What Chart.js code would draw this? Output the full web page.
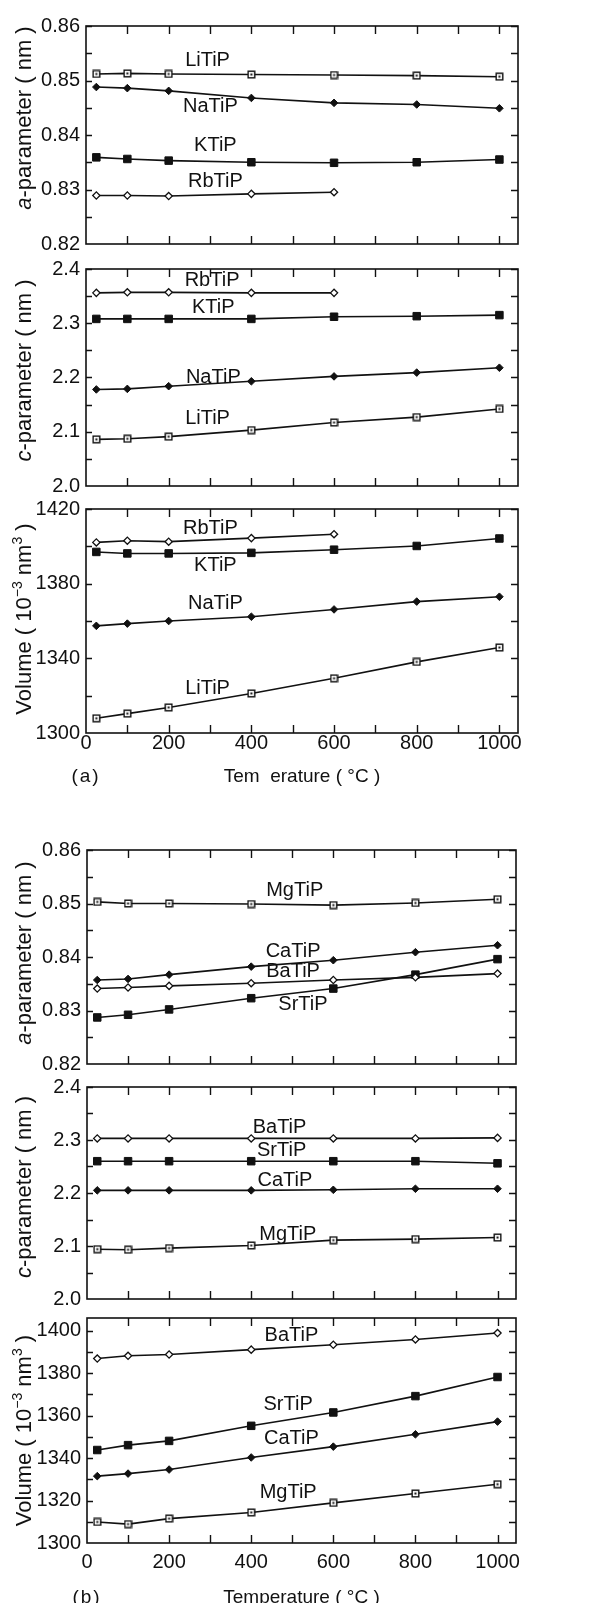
<!DOCTYPE html>
<html><head><meta charset="utf-8">
<script src="https://cdn.jsdelivr.net/npm/chart.js@4/dist/chart.umd.min.js"></script>
<style>
html,body{margin:0;padding:0;background:#fff;width:607px;height:1603px;overflow:hidden;position:relative}
canvas{position:absolute;left:0}
</style></head><body>
<canvas id="a1"></canvas><canvas id="a2"></canvas><canvas id="a3"></canvas>
<canvas id="b1"></canvas><canvas id="b2"></canvas><canvas id="b3"></canvas>
<script>
// ---------- DATA ----------
const temps = [25, 100, 200, 400, 600, 800, 1000];
const tempsRb = [25, 100, 200, 400, 600];

// (a) alkali titanium phosphates
const aLiTiP = [0.8512, 0.8513, 0.8512, 0.8511, 0.8510, 0.8509, 0.8507];
const aNaTiP = [0.8488, 0.8486, 0.8481, 0.8468, 0.8459, 0.8456, 0.8449];
const aKTiP  = [0.8359, 0.8356, 0.8353, 0.8350, 0.8349, 0.8350, 0.8355];
const aRbTiP = [0.8289, 0.8289, 0.8288, 0.8292, 0.8295];

const cRbTiP = [2.356, 2.357, 2.357, 2.356, 2.356];
const cKTiP  = [2.308, 2.308, 2.308, 2.308, 2.312, 2.313, 2.315];
const cNaTiP = [2.178, 2.179, 2.184, 2.193, 2.202, 2.209, 2.218];
const cLiTiP = [2.086, 2.087, 2.091, 2.103, 2.117, 2.127, 2.142];

const vRbTiP = [1402.1, 1403.0, 1402.5, 1404.4, 1406.5];
const vKTiP  = [1397.0, 1396.2, 1396.2, 1396.5, 1398.2, 1400.2, 1404.2];
const vNaTiP = [1357.4, 1358.6, 1360.0, 1362.3, 1366.2, 1370.4, 1373.0];
const vLiTiP = [1307.9, 1310.4, 1313.7, 1321.2, 1329.3, 1338.1, 1345.8];

// (b) alkaline-earth titanium phosphates
const aMgTiP = [0.8503, 0.8500, 0.8500, 0.8499, 0.8497, 0.8501, 0.8508];
const aCaTiP = [0.8357, 0.8359, 0.8367, 0.8382, 0.8394, 0.8409, 0.8422];
const aBaTiP = [0.8341, 0.8343, 0.8346, 0.8351, 0.8357, 0.8362, 0.8369];
const aSrTiP = [0.8287, 0.8292, 0.8302, 0.8323, 0.8341, 0.8367, 0.8396];

const cBaTiP = [2.303, 2.303, 2.303, 2.303, 2.303, 2.303, 2.304];
const cSrTiP = [2.260, 2.260, 2.260, 2.260, 2.260, 2.260, 2.256];
const cCaTiP = [2.205, 2.205, 2.205, 2.205, 2.206, 2.208, 2.208];
const cMgTiP = [2.094, 2.093, 2.096, 2.101, 2.111, 2.113, 2.116];

const vBaTiP = [1386.9, 1388.2, 1388.8, 1391.1, 1393.4, 1395.9, 1398.9];
const vSrTiP = [1343.8, 1346.1, 1348.1, 1355.2, 1361.5, 1369.2, 1378.2];
const vCaTiP = [1331.5, 1332.7, 1334.6, 1340.3, 1345.4, 1351.2, 1357.2];
const vMgTiP = [1309.9, 1308.9, 1311.5, 1314.4, 1318.9, 1323.3, 1327.7];

const xTickLabels = [0, 200, 400, 600, 800, 1000];

// ---------- STYLE ----------
const INK = '#111';
const FONT = 'Arial, "Liberation Sans", Helvetica, sans-serif';

function openSquareImg() {
  const c = document.createElement('canvas'); c.width = 9; c.height = 9;
  const g = c.getContext('2d');
  g.fillStyle = '#fff'; g.fillRect(1, 1, 7, 7);
  g.strokeStyle = INK; g.lineWidth = 1.4; g.strokeRect(1.2, 1.2, 6.6, 6.6);
  g.fillStyle = INK; g.fillRect(3.5, 3.5, 2, 2);
  return c;
}
const OPEN_SQ = openSquareImg();
const markers = {
  openSquare:  {pointStyle: OPEN_SQ, pointRadius: 4.5, pointBackgroundColor: '#fff', pointBorderColor: INK, pointBorderWidth: 1},
  diamond:     {pointStyle: 'rectRot', pointRadius: 3.8, pointBackgroundColor: INK, pointBorderColor: INK, pointBorderWidth: 1},
  square:      {pointStyle: 'rect', pointRadius: 5.3, pointBackgroundColor: INK, pointBorderColor: INK, pointBorderWidth: 1},
  openDiamond: {pointStyle: 'rectRot', pointRadius: 3.6, pointBackgroundColor: '#fff', pointBorderColor: INK, pointBorderWidth: 1.3}
};

// ---------- PLUGINS ----------
const framePlugin = {
  id: 'frame',
  afterDraw(chart, args, o) {
    const {ctx, chartArea: a, scales: {x, y}} = chart;
    ctx.save();
    ctx.strokeStyle = INK; ctx.lineWidth = 1.6;
    ctx.strokeRect(a.left, a.top, a.right - a.left, a.bottom - a.top);
    ctx.lineWidth = 1.4;
    ctx.beginPath();
    for (let v = 100; v <= 1000; v += 100) {
      const px = Math.round(x.getPixelForValue(v)) + 0.5;
      ctx.moveTo(px, a.bottom); ctx.lineTo(px, a.bottom - 8);
      ctx.moveTo(px, a.top); ctx.lineTo(px, a.top + 8);
    }
    const n = Math.round((y.max - y.min) / o.yMinor);
    for (let i = 1; i < n + 1; i++) {
      const v = y.min + i * o.yMinor;
      if (v > y.max + 1e-9) break;
      const py = Math.round(y.getPixelForValue(v)) + 0.5;
      ctx.moveTo(a.left, py); ctx.lineTo(a.left + 6, py);
      ctx.moveTo(a.right, py); ctx.lineTo(a.right - 7, py);
    }
    ctx.stroke();
    // series labels
    ctx.fillStyle = INK;
    ctx.font = '20px ' + FONT;
    ctx.textAlign = 'center'; ctx.textBaseline = 'middle';
    (o.labels || []).forEach(l => {
      ctx.fillText(l.text, x.getPixelForValue(l.x), y.getPixelForValue(l.y));
    });
    // panel tag
    if (o.tag) {
      ctx.font = '19px ' + FONT;
      ctx.letterSpacing = '2px';
      ctx.fillText(o.tag, x.getPixelForValue(0), a.bottom + o.tagDy);
      ctx.letterSpacing = '0px';
    }
    // y title with mixed styles
    const parts = o.yTitle;
    const base = 22, sup = 14;
    const fontOf = p => (p.italic ? 'italic ' : '') + (p.sup ? sup : base) + 'px ' + FONT;
    let total = 0;
    parts.forEach(p => { ctx.font = fontOf(p); total += ctx.measureText(p.t).width; });
    ctx.translate(o.yTitleX, (a.top + a.bottom) / 2 + o.yTitleDy);
    ctx.rotate(-Math.PI / 2);
    ctx.textAlign = 'left'; ctx.textBaseline = 'alphabetic';
    let cx = -total / 2;
    parts.forEach(p => {
      ctx.font = fontOf(p);
      ctx.fillText(p.t, cx, p.sup ? -9 : 0);
      cx += ctx.measureText(p.t).width;
    });
    ctx.restore();
  }
};

// ---------- PANELS ----------
function series(name, xs, ys, marker) {
  return {
    label: name,
    data: xs.map((t, i) => ({x: t, y: ys[i]})),
    borderColor: INK, borderWidth: 1.6, tension: 0, fill: false,
    ...markers[marker]
  };
}

function makePanel(id, p) {
  const el = document.getElementById(id);
  el.width = 607; el.height = p.canvasH;
  el.style.width = '607px'; el.style.height = p.canvasH + 'px';
  el.style.top = p.canvasTop + 'px';
  new Chart(el, {
    type: 'line',
    data: {datasets: p.datasets},
    options: {
      responsive: false, animation: false, devicePixelRatio: 1,
      layout: {padding: {left: 0, right: p.padRight, top: 12, bottom: 0}},
      plugins: {
        legend: {display: false}, tooltip: {enabled: false},
        frame: {yMinor: p.yMinor, labels: p.labels, yTitle: p.yTitle, yTitleX: 31, yTitleDy: p.yTitleDy, tag: p.tag, tagDy: p.tagDy}
      },
      scales: {
        x: {
          type: 'linear', min: 0, max: 1045,
          afterFit: s => { s.height = p.xAxisH; },
          grid: {display: false, drawTicks: false}, border: {display: false},
          afterBuildTicks: s => { s.ticks = xTickLabels.map(v => ({value: v})); },
          ticks: {display: !!p.xTitle, padding: p.xTickPad, color: INK, maxRotation: 0, autoSkip: false,
                  font: {family: FONT, size: 20, lineHeight: 1}, callback: v => String(v)},
          title: {display: !!p.xTitle, text: p.xTitle || '', color: INK,
                  font: {family: FONT, size: 19, lineHeight: 1.2}, padding: {top: 0, bottom: p.xTitlePad}}
        },
        y: {
          type: 'linear', min: p.yMin, max: p.yMax,
          afterFit: s => { s.width = p.axisW; },
          grid: {display: false, drawTicks: false}, border: {display: false},
          afterBuildTicks: s => { s.ticks = p.yTicks.map(v => ({value: v})); },
          ticks: {padding: 6, color: INK, font: {family: FONT, size: 20, lineHeight: 1},
                  callback: v => v.toFixed(p.yDec)}
        }
      }
    },
    plugins: [framePlugin]
  });
}

const titleA = [{t: 'a', italic: true}, {t: '-parameter ( nm )'}];
const titleC = [{t: 'c', italic: true}, {t: '-parameter ( nm )'}];
const titleV = [{t: 'Volume ( 10'}, {t: '\u22123', sup: true}, {t: ' nm'}, {t: '3', sup: true}, {t: ' )'}];

// (a)
makePanel('a1', {
  canvasTop: 10, canvasH: 250, padRight: 89, axisW: 86, xAxisH: 10,
  yMin: 0.82, yMax: 0.86, yTicks: [0.82, 0.83, 0.84, 0.85, 0.86], yDec: 2, yMinor: 0.005,
  yTitle: titleA, yTitleDy: -17,
  datasets: [
    series('LiTiP', temps, aLiTiP, 'openSquare'),
    series('NaTiP', temps, aNaTiP, 'diamond'),
    series('KTiP', temps, aKTiP, 'square'),
    series('RbTiP', tempsRb, aRbTiP, 'openDiamond')
  ],
  labels: [
    {text: 'LiTiP', x: 294, y: 0.8537}, {text: 'NaTiP', x: 301, y: 0.8453},
    {text: 'KTiP', x: 313, y: 0.8381}, {text: 'RbTiP', x: 313, y: 0.8314}
  ]
});
makePanel('a2', {
  canvasTop: 253, canvasH: 249, padRight: 89, axisW: 86, xAxisH: 10,
  yMin: 2.0, yMax: 2.4, yTicks: [2.0, 2.1, 2.2, 2.3, 2.4], yDec: 1, yMinor: 0.05,
  yTitle: titleC, yTitleDy: -7,
  datasets: [
    series('RbTiP', tempsRb, cRbTiP, 'openDiamond'),
    series('KTiP', temps, cKTiP, 'square'),
    series('NaTiP', temps, cNaTiP, 'diamond'),
    series('LiTiP', temps, cLiTiP, 'openSquare')
  ],
  labels: [
    {text: 'RbTiP', x: 305, y: 2.379}, {text: 'KTiP', x: 308, y: 2.329},
    {text: 'NaTiP', x: 308, y: 2.200}, {text: 'LiTiP', x: 294, y: 2.124}
  ]
});
makePanel('a3', {
  canvasTop: 493, canvasH: 302, padRight: 89, axisW: 86, xAxisH: 62,
  yMin: 1300, yMax: 1420, yTicks: [1300, 1340, 1380, 1420], yDec: 0, yMinor: 20,
  yTitle: titleV, yTitleDy: -2,
  xTitle: 'Tem  erature ( \u00B0C )', xTickPad: 0, xTitlePad: 7, tag: '(a)', tagDy: 44,
  datasets: [
    series('RbTiP', tempsRb, vRbTiP, 'openDiamond'),
    series('KTiP', temps, vKTiP, 'square'),
    series('NaTiP', temps, vNaTiP, 'diamond'),
    series('LiTiP', temps, vLiTiP, 'openSquare')
  ],
  labels: [
    {text: 'RbTiP', x: 301, y: 1409.5}, {text: 'KTiP', x: 313, y: 1389.8},
    {text: 'NaTiP', x: 313, y: 1369.6}, {text: 'LiTiP', x: 294, y: 1324}
  ]
});

// (b)
makePanel('b1', {
  canvasTop: 834, canvasH: 246, padRight: 91, axisW: 87, xAxisH: 10,
  yMin: 0.82, yMax: 0.86, yTicks: [0.82, 0.83, 0.84, 0.85, 0.86], yDec: 2, yMinor: 0.005,
  yTitle: titleA, yTitleDy: -4,
  datasets: [
    series('MgTiP', temps, aMgTiP, 'openSquare'),
    series('CaTiP', temps, aCaTiP, 'diamond'),
    series('BaTiP', temps, aBaTiP, 'openDiamond'),
    series('SrTiP', temps, aSrTiP, 'square')
  ],
  labels: [
    {text: 'MgTiP', x: 506, y: 0.8525}, {text: 'CaTiP', x: 502, y: 0.8410},
    {text: 'BaTiP', x: 502, y: 0.8373}, {text: 'SrTiP', x: 526, y: 0.8311}
  ]
});
makePanel('b2', {
  canvasTop: 1071, canvasH: 244, padRight: 91, axisW: 87, xAxisH: 10,
  yMin: 2.0, yMax: 2.4, yTicks: [2.0, 2.1, 2.2, 2.3, 2.4], yDec: 1, yMinor: 0.05,
  yTitle: titleC, yTitleDy: -6,
  datasets: [
    series('BaTiP', temps, cBaTiP, 'openDiamond'),
    series('SrTiP', temps, cSrTiP, 'square'),
    series('CaTiP', temps, cCaTiP, 'diamond'),
    series('MgTiP', temps, cMgTiP, 'openSquare')
  ],
  labels: [
    {text: 'BaTiP', x: 469, y: 2.324}, {text: 'SrTiP', x: 474, y: 2.280},
    {text: 'CaTiP', x: 482, y: 2.224}, {text: 'MgTiP', x: 489, y: 2.121}
  ]
});
makePanel('b3', {
  canvasTop: 1302, canvasH: 311, padRight: 91, axisW: 87, xAxisH: 70,
  yMin: 1300, yMax: 1406, yTicks: [1300, 1320, 1340, 1360, 1380, 1400], yDec: 0, yMinor: 10,
  yTitle: titleV, yTitleDy: 0,
  xTitle: 'Temperature ( \u00B0C )', xTickPad: 9, xTitlePad: 4, tag: '(b)', tagDy: 55,
  datasets: [
    series('BaTiP', temps, vBaTiP, 'openDiamond'),
    series('SrTiP', temps, vSrTiP, 'square'),
    series('CaTiP', temps, vCaTiP, 'diamond'),
    series('MgTiP', temps, vMgTiP, 'openSquare')
  ],
  labels: [
    {text: 'BaTiP', x: 498, y: 1397.7}, {text: 'SrTiP', x: 490, y: 1365.4},
    {text: 'CaTiP', x: 498, y: 1349.2}, {text: 'MgTiP', x: 490, y: 1323.8}
  ]
});
</script>
</body></html>
